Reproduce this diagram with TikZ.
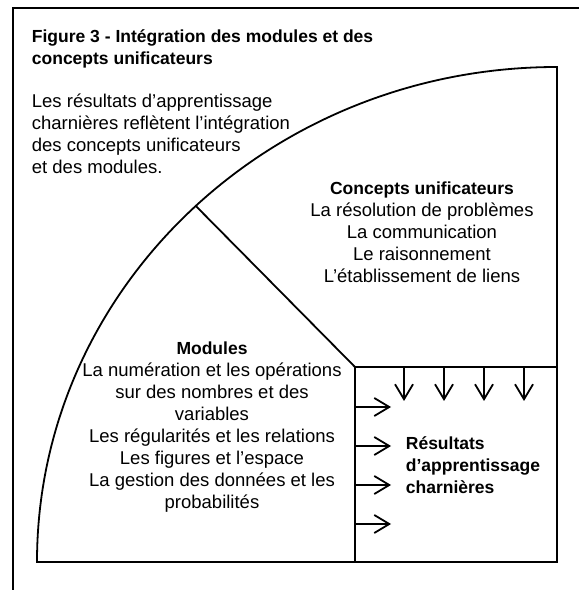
\documentclass[tikz,border=0pt]{standalone}
\usepackage{fontspec}
\setmainfont{Liberation Sans}
\usepackage{tikz}
\usetikzlibrary{arrows.meta, calc}
\newcommand{\blocktitle}[1]{{\bfseries\fontsize{17.5}{22}\selectfont #1}}

\begin{document}
\begin{tikzpicture}[x=1pt, y=1pt, line width=1.8pt,
    txt/.style={font=\fontsize{18.5}{22}\selectfont, inner sep=0pt},
    flow/.style={-{Straight Barb[length=15pt, width=18pt]}}]
  \useasboundingbox (0,0) rectangle (579,590);
  \draw (579,582) -- (13,582) -- (13,0);
  \coordinate (ctr) at (557,28);
  \coordinate (sq)  at (355,223);
  \coordinate (cut) at ($(ctr)+(134:520 and 495)$);
  \draw (37,28) arc[start angle=180, end angle=90, x radius=520, y radius=495] -- (ctr) -- cycle;
  \draw (ctr -| sq) -- (sq) -- (sq -| ctr);
  \draw (sq) -- (cut);
  \node[txt, anchor=north west, align=left] (title) at (31,561)
    {\blocktitle{Figure 3 - Intégration des modules et des}\\\blocktitle{concepts unificateurs}};
  \node[txt, anchor=north west, align=left] (intro) at (31,497)
    {Les résultats d’apprentissage\\charnières reflètent l’intégration\\des concepts unificateurs\\et des modules.};
  \node[txt, anchor=north, align=center] (concepts) at (422,409)
    {\blocktitle{Concepts unificateurs}\\La résolution de problèmes\\La communication\\Le raisonnement\\L’établissement de liens};
  \node[txt, anchor=north, align=center] (modules) at (212,249)
    {\blocktitle{Modules}\\La numération et les opérations\\sur des nombres et des\\variables\\Les régularités et les relations\\Les figures et l’espace\\La gestion des données et les\\probabilités};
  \node[txt, anchor=north west, align=left] (results) at (405,154)
    {\blocktitle{Résultats}\\\blocktitle{d’apprentissage}\\\blocktitle{charnières}};
  \foreach \x [count=\i] in {404,444,484,524} {
    \coordinate (down\i) at (\x,189);
    \draw[flow] (down\i |- sq) -- (down\i);
  }
  \foreach \y [count=\i] in {183,144,105,66} {
    \coordinate (right\i) at (391,\y);
    \draw[flow] (sq |- right\i) -- (right\i);
  }
\end{tikzpicture}
\end{document}
